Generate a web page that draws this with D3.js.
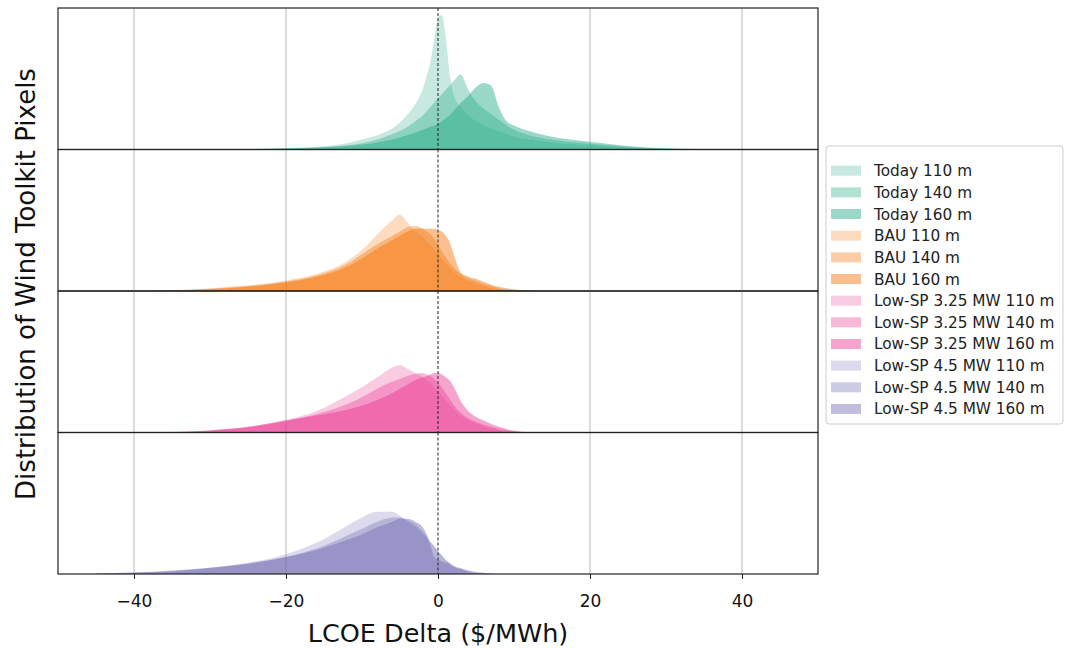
<!DOCTYPE html>
<html lang="en">
<head>
    <meta charset="UTF-8">
    <title>LCOE Delta distributions</title>
    <script src="https://d3js.org/d3.v7.min.js"></script>
    <style>
        body { margin: 0; background: #fff; }
        svg { display: block; font-family: "DejaVu Sans", sans-serif; }
        .grid { stroke: #b0b0b0; stroke-width: 0.9px; }
        .zero { stroke: #222; stroke-width: 1px; stroke-dasharray: 3,2; }
        .frame { fill: none; stroke: #222; stroke-width: 1.2px; }
        .legend-label { font-size: 15.3px; fill: #222; }
    </style>
</head>
<body>
    <svg id="chart" width="1065" height="648"></svg>

    <script>
        // x grid shared by all series (LCOE delta, $/MWh)
        const xs = [-45, -40, -35, -30, -25, -20, -16, -12, -10, -8, -6, -5, -4, -3, -2, -1.5, -1, -0.5, 0, 0.5,
                    1, 1.5, 2, 3, 4, 5, 6, 7, 8, 9, 10, 12, 15, 20, 25, 30, 35, 40];

        // relative density, panel height = 1
        const today110 = [0, 0, 0, 0, 0.003, 0.01, 0.02, 0.045, 0.07, 0.1, 0.15, 0.19, 0.25, 0.32, 0.43, 0.52, 0.62, 0.78, 0.93, 0.95,
                          0.8, 0.55, 0.4, 0.3, 0.24, 0.2, 0.17, 0.15, 0.13, 0.11, 0.09, 0.07, 0.05, 0.03, 0.015, 0.005, 0, 0];
        const today140 = [0, 0, 0, 0, 0.002, 0.008, 0.015, 0.03, 0.045, 0.07, 0.11, 0.13, 0.16, 0.2, 0.24, 0.27, 0.3, 0.33, 0.36, 0.39,
                          0.42, 0.45, 0.48, 0.53, 0.42, 0.34, 0.29, 0.25, 0.21, 0.17, 0.14, 0.1, 0.07, 0.04, 0.02, 0.005, 0, 0];
        const today160 = [0, 0, 0, 0, 0.002, 0.006, 0.012, 0.025, 0.035, 0.05, 0.07, 0.085, 0.1, 0.12, 0.14, 0.15, 0.16, 0.17, 0.18, 0.2,
                          0.22, 0.24, 0.27, 0.33, 0.38, 0.44, 0.47, 0.45, 0.3, 0.2, 0.17, 0.13, 0.09, 0.055, 0.025, 0.008, 0.002, 0];

        const bau110 = [0, 0, 0.005, 0.02, 0.04, 0.075, 0.12, 0.21, 0.29, 0.4, 0.5, 0.54, 0.48, 0.42, 0.38, 0.35, 0.32, 0.29, 0.26, 0.23,
                        0.2, 0.17, 0.14, 0.1, 0.07, 0.05, 0.035, 0.02, 0.012, 0.007, 0.004, 0, 0, 0, 0, 0, 0, 0];
        const bau140 = [0, 0, 0.004, 0.016, 0.035, 0.068, 0.11, 0.19, 0.26, 0.33, 0.39, 0.42, 0.45, 0.46, 0.44, 0.42, 0.4, 0.37, 0.33, 0.28,
                        0.24, 0.2, 0.17, 0.12, 0.09, 0.07, 0.05, 0.035, 0.02, 0.012, 0.006, 0.001, 0, 0, 0, 0, 0, 0];
        const bau160 = [0, 0, 0.003, 0.012, 0.03, 0.06, 0.1, 0.17, 0.23, 0.3, 0.36, 0.39, 0.42, 0.44, 0.44, 0.44, 0.44, 0.44, 0.43, 0.42,
                        0.39, 0.35, 0.27, 0.13, 0.1, 0.085, 0.065, 0.045, 0.03, 0.02, 0.012, 0.003, 0, 0, 0, 0, 0, 0];

        const sp325_110 = [0, 0, 0.003, 0.015, 0.04, 0.09, 0.15, 0.26, 0.32, 0.39, 0.46, 0.475, 0.45, 0.42, 0.39, 0.37, 0.35, 0.32, 0.29, 0.26,
                           0.23, 0.2, 0.17, 0.12, 0.09, 0.065, 0.045, 0.03, 0.018, 0.01, 0.005, 0, 0, 0, 0, 0, 0, 0];
        const sp325_140 = [0, 0, 0.002, 0.012, 0.035, 0.08, 0.13, 0.2, 0.25, 0.31, 0.36, 0.38, 0.4, 0.415, 0.42, 0.41, 0.4, 0.38, 0.35, 0.32,
                           0.28, 0.24, 0.2, 0.14, 0.1, 0.075, 0.055, 0.04, 0.025, 0.015, 0.008, 0.001, 0, 0, 0, 0, 0, 0];
        const sp325_160 = [0, 0, 0.003, 0.015, 0.04, 0.085, 0.12, 0.16, 0.19, 0.23, 0.28, 0.31, 0.34, 0.37, 0.39, 0.4, 0.41, 0.42, 0.42, 0.41,
                           0.39, 0.37, 0.33, 0.22, 0.15, 0.11, 0.085, 0.06, 0.04, 0.025, 0.012, 0.002, 0, 0, 0, 0, 0, 0];

        const sp45_110 = [0, 0.01, 0.02, 0.045, 0.08, 0.14, 0.22, 0.34, 0.4, 0.44, 0.44, 0.41, 0.37, 0.33, 0.28, 0.25, 0.22, 0.19, 0.16, 0.13,
                          0.1, 0.08, 0.06, 0.04, 0.025, 0.015, 0.008, 0.004, 0, 0, 0, 0, 0, 0, 0, 0, 0, 0];
        const sp45_140 = [0, 0.008, 0.018, 0.04, 0.07, 0.12, 0.18, 0.27, 0.32, 0.37, 0.4, 0.4, 0.38, 0.35, 0.3, 0.27, 0.23, 0.2, 0.16, 0.13,
                          0.1, 0.08, 0.06, 0.04, 0.025, 0.015, 0.008, 0.003, 0, 0, 0, 0, 0, 0, 0, 0, 0, 0];
        const sp45_160 = [0.003, 0.01, 0.025, 0.045, 0.075, 0.12, 0.17, 0.24, 0.28, 0.33, 0.37, 0.39, 0.39, 0.37, 0.33, 0.28, 0.2, 0.12, 0.1, 0.09,
                          0.08, 0.07, 0.05, 0.035, 0.015, 0.004, 0, 0, 0, 0, 0, 0, 0, 0, 0, 0, 0, 0];

        const scenarios = ["Today", "BAU", "Low-SP 3.25 MW", "Low-SP 4.5 MW"];
        const heights = ["110 m", "140 m", "160 m"];
        const colors = ["#20a982", "#f47000", "#ea3390", "#736cb4"];
        const alphas = [0.25, 0.35, 0.45];
        const panelData = [
            [today110, today140, today160],
            [bau110, bau140, bau160],
            [sp325_110, sp325_140, sp325_160],
            [sp45_110, sp45_140, sp45_160]
        ];
        const xTicks = [-40, -20, 0, 20, 40];

        const svg = d3.select("#chart");

        const plotLeft = 58, plotRight = 818, plotTop = 8, plotBottom = 574;
        const panelH = (plotBottom - plotTop) / scenarios.length;

        const x = d3.scaleLinear().domain([-50, 50]).range([plotLeft, plotRight]);

        scenarios.forEach((name, p) => {
            const y0 = plotTop + p * panelH;
            const y = d3.scaleLinear().domain([0, 1]).range([y0 + panelH, y0]);
            const g = svg.append("g");

            // grid
            g.selectAll(".grid")
                .data(xTicks.filter(t => t !== 0))
                .enter().append("line")
                .attr("class", "grid")
                .attr("x1", d => x(d)).attr("x2", d => x(d))
                .attr("y1", y0).attr("y2", y0 + panelH);

            const area = d3.area()
                .x((d, i) => x(xs[i]))
                .y0(y(0))
                .y1(d => y(d))
                .curve(d3.curveMonotoneX);

            panelData[p].forEach((vals, k) => {
                g.append("path")
                    .datum(vals)
                    .attr("d", area)
                    .attr("fill", colors[p])
                    .attr("fill-opacity", alphas[k]);
            });

            // zero reference
            g.append("line")
                .attr("class", "zero")
                .attr("x1", x(0)).attr("x2", x(0))
                .attr("y1", y0).attr("y2", y0 + panelH);

            g.append("rect")
                .attr("class", "frame")
                .attr("x", plotLeft).attr("y", y0)
                .attr("width", plotRight - plotLeft).attr("height", panelH);
        });

        // x axis
        const xAxis = svg.append("g")
            .attr("transform", `translate(0,${plotBottom})`)
            .call(d3.axisBottom(x).tickValues(xTicks).tickSize(5).tickPadding(4));
        xAxis.select(".domain").remove();
        xAxis.selectAll("line").attr("stroke", "#222");
        xAxis.selectAll("text")
            .attr("font-size", 17)
            .attr("font-family", "DejaVu Sans")
            .attr("fill", "#111")
            .attr("y", 33)
            .attr("dy", 0);

        svg.append("text")
            .attr("x", x(0)).attr("y", 642)
            .attr("text-anchor", "middle")
            .attr("font-size", 25.5)
            .attr("fill", "#111")
            .text("LCOE Delta ($/MWh)");

        svg.append("text")
            .attr("transform", "translate(35,284) rotate(-90)")
            .attr("text-anchor", "middle")
            .attr("font-size", 26)
            .attr("fill", "#111")
            .text("Distribution of Wind Toolkit Pixels");

        // legend
        const entries = [];
        scenarios.forEach((s, p) => heights.forEach((h, k) => entries.push({ label: `${s} ${h}`, color: colors[p], alpha: alphas[k] })));

        const legend = svg.append("g");
        legend.append("rect")
            .attr("x", 826).attr("y", 146)
            .attr("width", 237).attr("height", 278)
            .attr("rx", 3)
            .attr("fill", "#fff")
            .attr("stroke", "#cccccc");

        const row = legend.selectAll(".entry")
            .data(entries)
            .enter().append("g")
            .attr("transform", (d, i) => `translate(0,${170.7 + i * 21.66})`);
        row.append("rect")
            .attr("x", 831).attr("y", -5)
            .attr("width", 30).attr("height", 10)
            .attr("fill", d => d.color)
            .attr("fill-opacity", d => d.alpha);
        row.append("text")
            .attr("class", "legend-label")
            .attr("x", 874).attr("y", 5.5)
            .text(d => d.label);
    </script>
</body>
</html>
